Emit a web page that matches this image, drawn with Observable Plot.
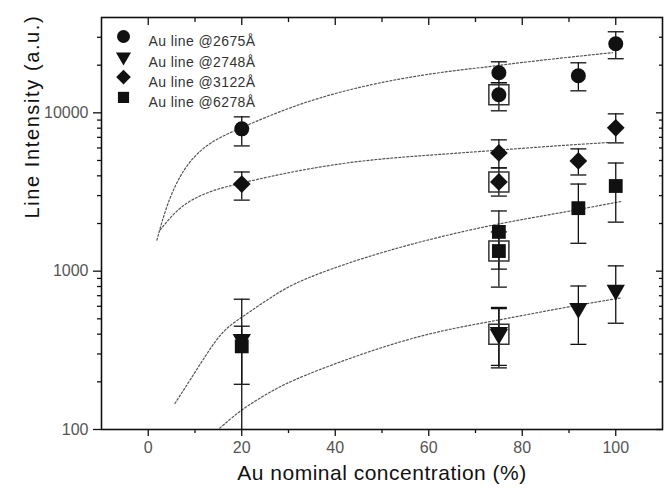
<!DOCTYPE html>
<html><head><meta charset="utf-8">
<script src="https://cdn.jsdelivr.net/npm/d3@7"></script>
<script src="https://cdn.jsdelivr.net/npm/@observablehq/plot@0.6"></script>
<style>body{margin:0;background:#fff}</style>
</head><body><div id="chart"></div>
<script>
// ---- measured data ----
const conc = [20, 75, 92, 100];
const au2675   = [7920, 17900, 17150, 27300];
const au2675Lo = [6180, 15500, 13770, 21960];
const au2675Hi = [9430, 21000, 20700, 32500];
const au2748   = [372, 411, 583, 759];
const au2748Lo = [80, 254, 345, 469];
const au2748Hi = [449, 590, 806, 1080];
const au3122   = [3550, 5580, 4970, 8040];
const au3122Lo = [2810, 4490, 4050, 6460];
const au3122Hi = [4230, 6750, 5920, 9850];
const au6278   = [335, 1770, 2500, 3450];
const au6278Lo = [193, 1030, 1500, 2040];
const au6278Hi = [665, 2400, 3550, 4820];

// second (boxed) sample at 75 %: order 2675, 2748, 3122, 6278
const boxedConc = 75;
const boxedVals = [13000, 400, 3660, 1340];
const boxedLo   = [10300, 245, 2980, 793];
const boxedHi   = [15500, 580, 4490, 1770];

// dotted fit curves
const fit2675X = [1.85, 4.0, 7.5, 12.5, 19.6, 32.3, 46.5, 60.7, 73.5, 81.3, 99.3];
const fit2675Y = [1570, 2680, 4500, 6430, 8000, 11520, 15000, 17830, 19630, 21100, 24000];
const fit3122X = [2.55, 5.4, 8.9, 13.9, 19.6, 32.3, 46.5, 60.7, 73.5, 87.7, 98.3];
const fit3122Y = [1820, 2320, 2810, 3260, 3590, 4360, 5050, 5420, 5770, 6210, 6490];
const fit6278X = [5.7, 8.9, 12.5, 16.0, 19.6, 26.7, 32.3, 46.5, 60.7, 74.9, 87.7, 101];
const fit6278Y = [146, 204, 301, 424, 502, 700, 877, 1233, 1610, 2000, 2320, 2750];
const fit2748X = [14, 16.0, 19.6, 26.7, 32.3, 46.5, 60.7, 74.9, 87.7, 101];
const fit2748Y = [95, 106, 132, 178, 214, 308, 413, 490, 581, 677];

const seriesNames = ["Au line @2675Å", "Au line @2748Å", "Au line @3122Å", "Au line @6278Å"];
const xTicks = [0, 20, 40, 60, 80, 100];
const xMinorTicks = [10, 30, 50, 70, 90];
const yTicks = [100, 1000, 10000];
const yMinorTicks = [200, 300, 400, 500, 600, 700, 800, 900,
  2000, 3000, 4000, 5000, 6000, 7000, 8000, 9000, 20000, 30000];
const xLabel = "Au nominal concentration (%)";
const yLabel = "Line Intensity (a.u.)";

// ---- build tables ----
const symbols = [
  {symbol: "circle", r: 7.5, rotate: 0, lr: 6.5},
  {symbol: "triangle", r: 6.8, rotate: 180, lr: 5.6},
  {symbol: "diamond2", r: 8, rotate: 0, lr: 6.6},
  {symbol: "square", r: 7.8, rotate: 0, lr: 6.3}
];
const vals = [au2675, au2748, au3122, au6278];
const los = [au2675Lo, au2748Lo, au3122Lo, au6278Lo];
const his = [au2675Hi, au2748Hi, au3122Hi, au6278Hi];
const fits = [[fit2675X, fit2675Y], [fit2748X, fit2748Y], [fit3122X, fit3122Y], [fit6278X, fit6278Y]];

const capSymbol = {draw(ctx, size) { const w = Math.sqrt(size / Math.PI); ctx.moveTo(-w, 0); ctx.lineTo(w, 0); }};

const marks = [];
// fits
fits.forEach(([fx, fy], s) => {
  const rows = fx.map((x, i) => ({x, y: fy[i]}));
  marks.push(Plot.line(rows, {x: "x", y: "y", curve: "basis", stroke: "#555", strokeWidth: 1.2, strokeDasharray: "2,2", clip: true}));
});
// error bars + markers
vals.forEach((v, s) => {
  const rows = conc.map((x, i) => ({x, y: v[i], lo: los[s][i], hi: his[s][i]}));
  rows.push({x: boxedConc, y: boxedVals[s], lo: boxedLo[s], hi: boxedHi[s], boxed: true});
  marks.push(Plot.ruleX(rows, {x: "x", y1: "lo", y2: "hi", stroke: "#111", strokeWidth: 1.3, clip: true}));
  marks.push(Plot.dot(rows, {x: "x", y: "hi", symbol: capSymbol, r: 8, fill: "none", stroke: "#111", strokeWidth: 1.3, clip: true}));
  marks.push(Plot.dot(rows, {x: "x", y: "lo", symbol: capSymbol, r: 8, fill: "none", stroke: "#111", strokeWidth: 1.3, clip: true}));
  marks.push(Plot.dot(rows.filter(d => d.boxed), {x: "x", y: "y", symbol: "square", r: 11.3, fill: "none", stroke: "#333", strokeWidth: 1.5}));
  marks.push(Plot.dot(rows, {x: "x", y: "y", symbol: symbols[s].symbol, r: symbols[s].r, rotate: symbols[s].rotate, fill: "#111", stroke: "none"}));
});
// legend
seriesNames.forEach((name, i) => {
  const dy = 19 + i * 20.3;
  marks.push(Plot.dot([name], {frameAnchor: "top-left", dx: 22, dy, symbol: symbols[i].symbol, r: symbols[i].lr, rotate: symbols[i].rotate, fill: "#111"}));
  marks.push(Plot.text([name], {frameAnchor: "top-left", dx: 47, dy, text: d => d, textAnchor: "start", fontSize: 14, fill: "#333"}));
});

const chart = Plot.plot({
  width: 664, height: 493,
  marginLeft: 101, marginRight: 2, marginTop: 17, marginBottom: 64,
  style: {fontFamily: "'Liberation Sans', Arial, sans-serif", background: "#fff", overflow: "visible"},
  x: {domain: [-10, 110]},
  y: {type: "log", domain: [100, 40000]},
  marks: [
    Plot.axisX({anchor: "bottom", ticks: xTicks, tickSize: 7, tickPadding: 5, label: null, fontSize: 16, stroke: "#111", fill: "#555", strokeWidth: 1.3}),
    Plot.axisX({anchor: "bottom", ticks: xMinorTicks, tickSize: 4, text: null, label: null, stroke: "#111", strokeWidth: 1.3}),
    Plot.axisX({anchor: "top", ticks: xTicks, tickSize: -7, text: null, label: null, stroke: "#111", strokeWidth: 1.3}),
    Plot.axisX({anchor: "top", ticks: xMinorTicks, tickSize: -4, text: null, label: null, stroke: "#111", strokeWidth: 1.3}),
    Plot.axisY({anchor: "left", ticks: yTicks, tickSize: 8, tickPadding: 5, tickFormat: d => String(d), label: null, fontSize: 16, stroke: "#111", fill: "#555", strokeWidth: 1.3}),
    Plot.axisY({anchor: "left", ticks: yMinorTicks, tickSize: 4, text: null, label: null, stroke: "#111", strokeWidth: 1.3}),
    Plot.axisY({anchor: "right", ticks: yTicks, tickSize: -7, text: null, label: null, stroke: "#111", strokeWidth: 1.3}),
    Plot.axisY({anchor: "right", ticks: yMinorTicks, tickSize: -4, text: null, label: null, stroke: "#111", strokeWidth: 1.3}),
    Plot.frame({stroke: "#111", strokeWidth: 1.6}),
    ...marks,
    Plot.text([xLabel], {frameAnchor: "bottom", dy: 50, text: d => d, fontSize: 21, fill: "#111"}),
    Plot.text([yLabel], {frameAnchor: "left", dx: -69, dy: -5, rotate: -90, text: d => d, fontSize: 20, fill: "#111"})
  ]
});
// text spacing to match the reference's wide lettering
d3.select(chart).selectAll("text").each(function () {
  const t = this.textContent;
  if (t === yLabel) d3.select(this).style("letter-spacing", "1.6px");
  else if (t === xLabel) d3.select(this).style("letter-spacing", "0.5px");
  else if (seriesNames.includes(t)) d3.select(this).style("letter-spacing", "0.4px");
});
document.getElementById("chart").appendChild(chart);
</script>
</body></html>
